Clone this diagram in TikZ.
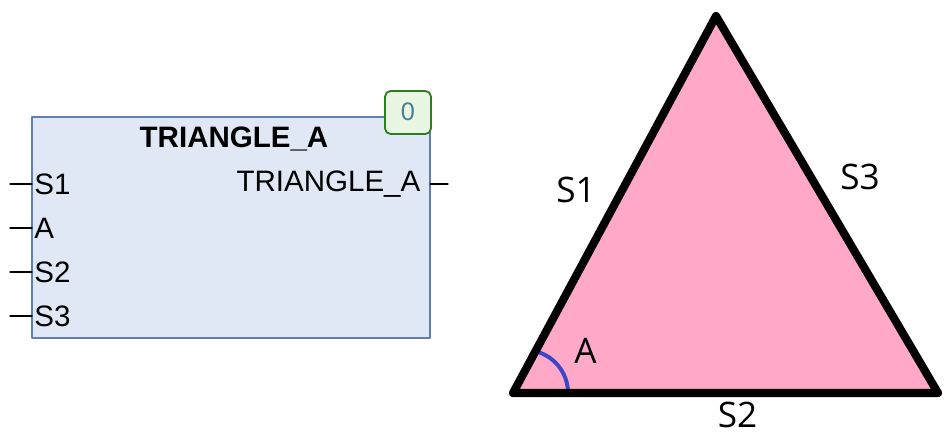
\documentclass[tikz,border=0pt]{standalone}
\usepackage{fontspec}
\setmainfont{Liberation Sans}
\newfontfamily\labfont{Open Sans}
\definecolor{boxfill}{HTML}{E0E8F5}
\definecolor{boxline}{HTML}{5E7FB0}
\definecolor{badgefill}{HTML}{EAF6E4}
\definecolor{badgeline}{HTML}{2E7D1E}
\definecolor{badgetext}{HTML}{4A7F8F}
\definecolor{trifill}{HTML}{FFA8C8}
\definecolor{arcblue}{HTML}{3A48C8}
\begin{document}
\begin{tikzpicture}[line cap=round, line join=round,
    fbox/.style={draw=boxline, fill=boxfill, line width=0.8pt},
    pin/.style={inner sep=1pt, anchor=west, font=\fontsize{21}{25}\selectfont},
    wire/.style={line width=0.9pt},
    badge/.style={draw=badgeline, fill=badgefill, line width=1.3pt, rounded corners=4pt},
    side/.style={line width=5.8pt},
    lab/.style={inner sep=1pt, font=\labfont\fontsize{25}{30}\selectfont}]
  \useasboundingbox (0,0) rectangle (23.65,10.9);
  % function block
  \draw[fbox] (0.8,2.45) rectangle (10.75,7.975);
  \node[inner sep=1pt, font=\bfseries\fontsize{21}{25}\selectfont] (title) at (5.85,7.425) {TRIANGLE\_A};
  \draw[badge] (9.625,7.55) rectangle (10.775,8.625);
  \node[text=badgetext, font=\fontsize{18}{21}\selectfont] (cnt) at (10.2,8.1) {0};
  \node[pin] (ps1) at (0.82,6.3) {S1};
  \node[pin] (pa) at (0.82,5.2) {A};
  \node[pin] (ps2) at (0.82,4.1) {S2};
  \node[pin] (ps3) at (0.82,3.0) {S3};
  \node[pin, anchor=east] (pout) at (10.55,6.3) {TRIANGLE\_A};
  \coordinate (i1) at (0.25,6.3);
  \coordinate (i2) at (0.25,5.2);
  \coordinate (i3) at (0.25,4.1);
  \coordinate (i4) at (0.25,3.0);
  \coordinate (o1) at (11.2,6.3);
  \draw[wire] (i1) -- (0.8,6.3);
  \draw[wire] (i2) -- (0.8,5.2);
  \draw[wire] (i3) -- (0.8,4.1);
  \draw[wire] (i4) -- (0.8,3.0);
  \draw[wire] (10.75,6.3) -- (o1);
  % triangle
  \coordinate (tb) at (12.825,1.075);
  \coordinate (tc) at (23.45,1.075);
  \coordinate (ta) at (17.9,10.5);
  \fill[trifill] (tb) -- (tc) -- (ta) -- cycle;
  \draw[arcblue, line width=2.8pt, line cap=butt] ([xshift=1.075cm]13.125,1.075) arc[start angle=0, end angle=80, radius=1.075];
  \draw[side] (tb) -- (tc) -- (ta) -- cycle;
  \node[lab] (s1) at (14.4,6.15) {S1};
  \node[lab] (s3) at (21.5,6.475) {S3};
  \node[lab] (aa) at (14.64,2.14) {A};
  \node[lab] (s2) at (18.44,0.525) {S2};
\end{tikzpicture}
\end{document}
